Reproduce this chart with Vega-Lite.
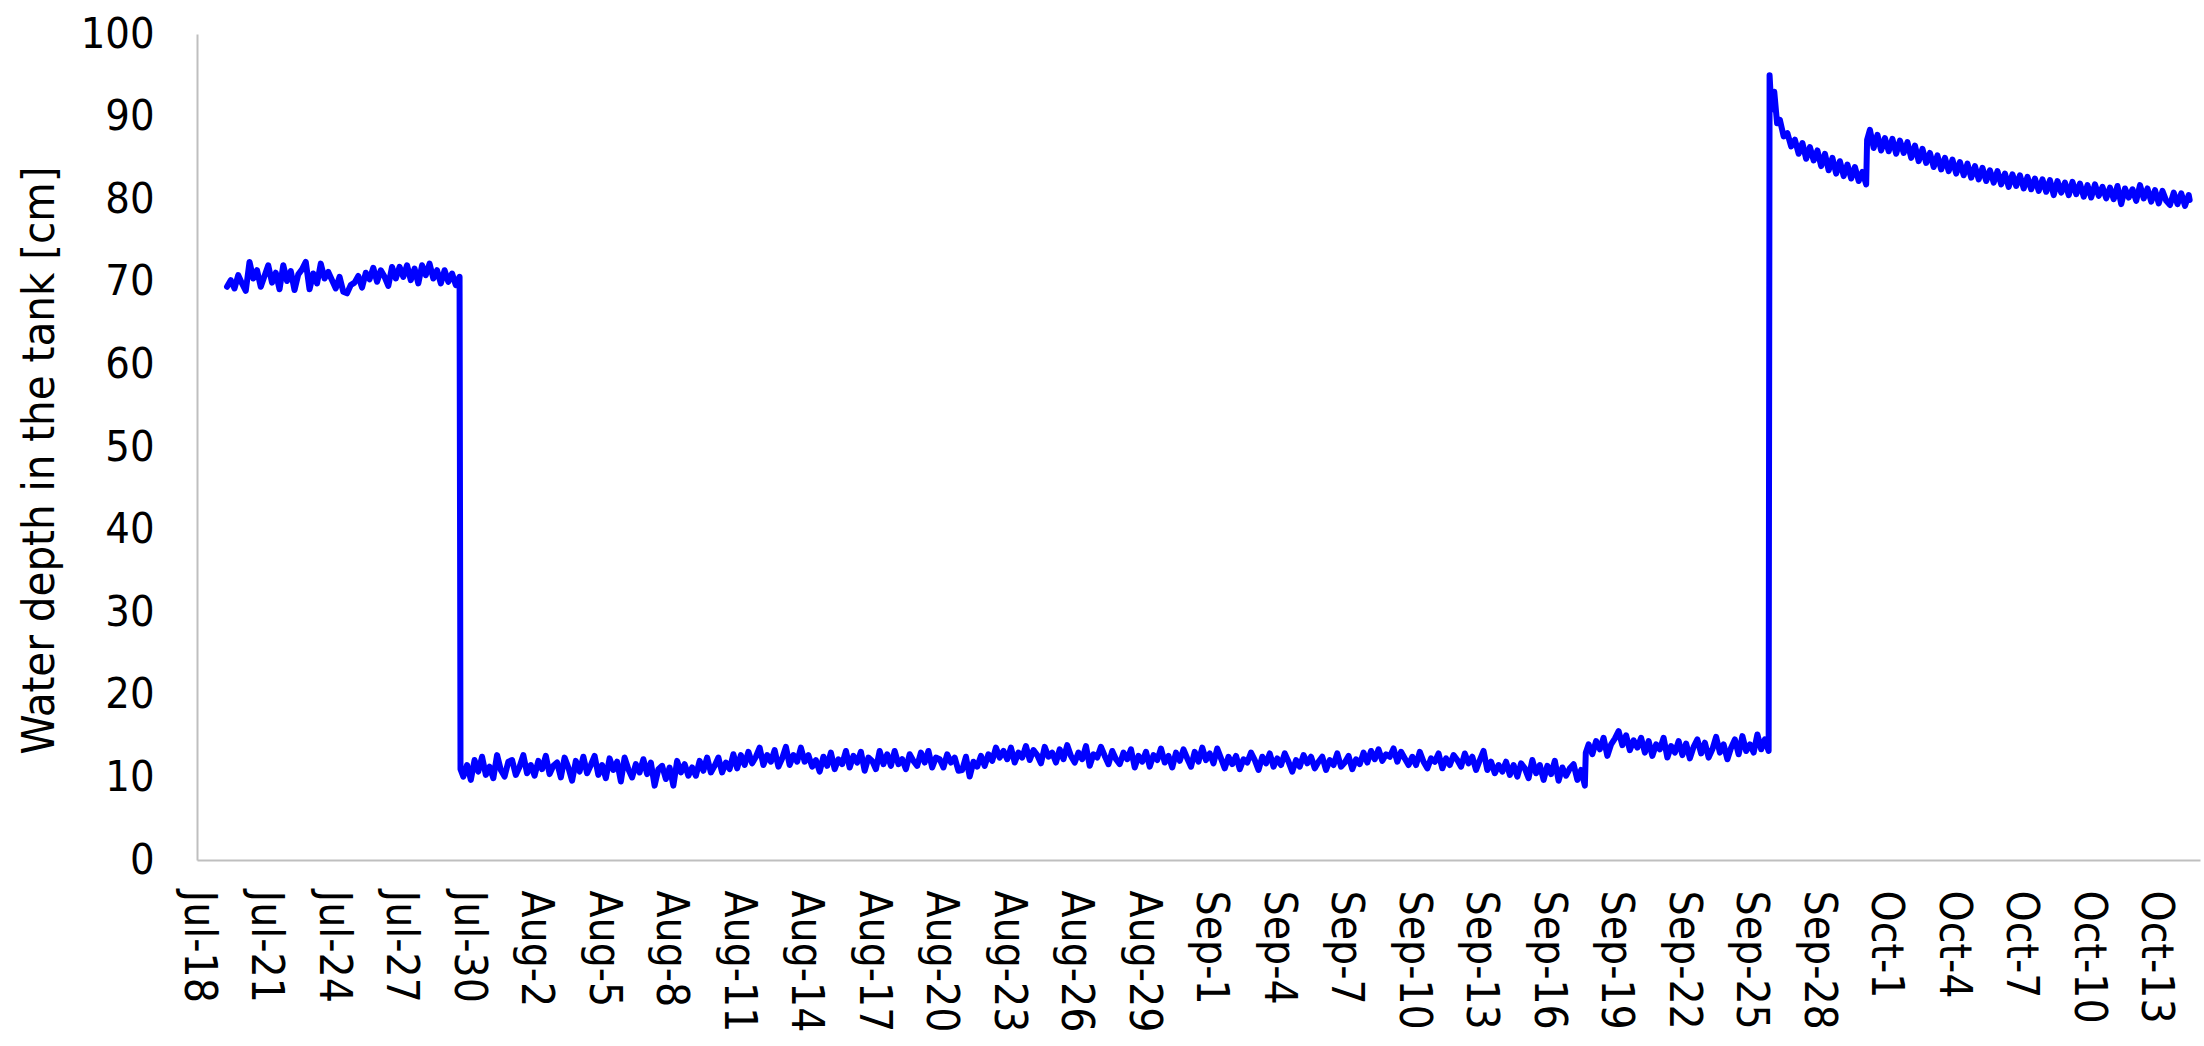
{
"$schema": "https://vega.github.io/schema/vega-lite/v6.json",
"width": 2003,
"height": 826,
"autosize": {"type": "none"},
"padding": {"left": 197, "top": 34, "right": 4, "bottom": 186},
"background": "white",
"config": {"view": {"stroke": null}, "font": "DejaVu Sans Condensed, DejaVu Sans"},
"data": {"values": [
{"t":"2019-07-19T08:00","d":69.4},{"t":"2019-07-19T12:00","d":70.2},{"t":"2019-07-19T16:00","d":69.2},{"t":"2019-07-19T20:00","d":70.8},
{"t":"2019-07-20T00:00","d":69.8},{"t":"2019-07-20T04:00","d":68.9},{"t":"2019-07-20T08:00","d":72.4},{"t":"2019-07-20T12:00","d":70.4},{"t":"2019-07-20T16:00","d":71.4},{"t":"2019-07-20T20:00","d":69.4},
{"t":"2019-07-21T00:00","d":70.7},{"t":"2019-07-21T04:00","d":72.0},{"t":"2019-07-21T08:00","d":69.9},{"t":"2019-07-21T12:00","d":71.1},{"t":"2019-07-21T16:00","d":69.1},{"t":"2019-07-21T20:00","d":72.0},
{"t":"2019-07-22T00:00","d":70.1},{"t":"2019-07-22T04:00","d":71.3},{"t":"2019-07-22T08:00","d":69.0},{"t":"2019-07-22T12:00","d":70.9},{"t":"2019-07-22T16:00","d":71.5},{"t":"2019-07-22T20:00","d":72.4},
{"t":"2019-07-23T00:00","d":69.1},{"t":"2019-07-23T04:00","d":71.0},{"t":"2019-07-23T08:00","d":69.8},{"t":"2019-07-23T12:00","d":72.2},{"t":"2019-07-23T16:00","d":70.4},{"t":"2019-07-23T20:00","d":71.2},
{"t":"2019-07-24T00:00","d":70.2},{"t":"2019-07-24T04:00","d":69.2},{"t":"2019-07-24T08:00","d":70.6},{"t":"2019-07-24T12:00","d":68.8},{"t":"2019-07-24T16:00","d":68.6},{"t":"2019-07-24T20:00","d":69.6},
{"t":"2019-07-25T00:00","d":69.9},{"t":"2019-07-25T04:00","d":70.7},{"t":"2019-07-25T08:00","d":69.3},{"t":"2019-07-25T12:00","d":71.1},{"t":"2019-07-25T16:00","d":70.3},{"t":"2019-07-25T20:00","d":71.7},
{"t":"2019-07-26T00:00","d":70.0},{"t":"2019-07-26T04:00","d":71.4},{"t":"2019-07-26T08:00","d":70.6},{"t":"2019-07-26T12:00","d":69.5},{"t":"2019-07-26T16:00","d":71.8},{"t":"2019-07-26T20:00","d":70.4},
{"t":"2019-07-27T00:00","d":71.8},{"t":"2019-07-27T04:00","d":70.6},{"t":"2019-07-27T08:00","d":72.0},{"t":"2019-07-27T12:00","d":70.2},{"t":"2019-07-27T16:00","d":71.6},{"t":"2019-07-27T20:00","d":69.8},
{"t":"2019-07-28T00:00","d":72.0},{"t":"2019-07-28T04:00","d":70.8},{"t":"2019-07-28T08:00","d":72.2},{"t":"2019-07-28T12:00","d":70.4},{"t":"2019-07-28T16:00","d":71.4},{"t":"2019-07-28T20:00","d":69.8},
{"t":"2019-07-29T00:00","d":71.4},{"t":"2019-07-29T04:00","d":70.0},{"t":"2019-07-29T08:00","d":71.0},{"t":"2019-07-29T12:00","d":69.6},{"t":"2019-07-29T16:00","d":70.6},
{"t":"2019-07-29T17:00","d":11.0},{"t":"2019-07-29T20:00","d":10.1},
{"t":"2019-07-30T00:00","d":11.5},{"t":"2019-07-30T04:00","d":9.7},{"t":"2019-07-30T08:00","d":12.1},{"t":"2019-07-30T12:00","d":10.7},{"t":"2019-07-30T16:00","d":12.5},{"t":"2019-07-30T20:00","d":10.3},
{"t":"2019-07-31T00:00","d":11.3},{"t":"2019-07-31T04:00","d":9.9},{"t":"2019-07-31T08:00","d":12.7},{"t":"2019-07-31T12:00","d":10.9},{"t":"2019-07-31T16:00","d":10.1},{"t":"2019-07-31T20:00","d":11.9},
{"t":"2019-08-01T00:00","d":12.1},{"t":"2019-08-01T04:00","d":10.3},{"t":"2019-08-01T08:00","d":11.3},{"t":"2019-08-01T12:00","d":12.7},{"t":"2019-08-01T16:00","d":10.5},{"t":"2019-08-01T20:00","d":11.5},
{"t":"2019-08-02T00:00","d":10.2},{"t":"2019-08-02T04:00","d":12.0},{"t":"2019-08-02T08:00","d":11.0},{"t":"2019-08-02T12:00","d":12.6},{"t":"2019-08-02T16:00","d":10.4},{"t":"2019-08-02T20:00","d":11.4},
{"t":"2019-08-03T00:00","d":11.8},{"t":"2019-08-03T04:00","d":10.0},{"t":"2019-08-03T08:00","d":12.4},{"t":"2019-08-03T12:00","d":11.2},{"t":"2019-08-03T16:00","d":9.6},{"t":"2019-08-03T20:00","d":12.0},
{"t":"2019-08-04T00:00","d":10.7},{"t":"2019-08-04T04:00","d":12.5},{"t":"2019-08-04T08:00","d":10.5},{"t":"2019-08-04T12:00","d":11.5},{"t":"2019-08-04T16:00","d":12.6},{"t":"2019-08-04T20:00","d":10.3},
{"t":"2019-08-05T00:00","d":11.5},{"t":"2019-08-05T04:00","d":9.9},{"t":"2019-08-05T08:00","d":12.3},{"t":"2019-08-05T12:00","d":10.9},{"t":"2019-08-05T16:00","d":11.9},{"t":"2019-08-05T20:00","d":9.5},
{"t":"2019-08-06T00:00","d":12.4},{"t":"2019-08-06T04:00","d":11.0},{"t":"2019-08-06T08:00","d":10.0},{"t":"2019-08-06T12:00","d":11.6},{"t":"2019-08-06T16:00","d":10.6},{"t":"2019-08-06T20:00","d":12.2},
{"t":"2019-08-07T00:00","d":10.4},{"t":"2019-08-07T04:00","d":11.8},{"t":"2019-08-07T08:00","d":9.0},{"t":"2019-08-07T12:00","d":11.0},{"t":"2019-08-07T16:00","d":11.4},{"t":"2019-08-07T20:00","d":9.8},
{"t":"2019-08-08T00:00","d":11.2},{"t":"2019-08-08T04:00","d":9.0},{"t":"2019-08-08T08:00","d":12.0},{"t":"2019-08-08T12:00","d":10.6},{"t":"2019-08-08T16:00","d":11.6},{"t":"2019-08-08T20:00","d":10.2},
{"t":"2019-08-09T00:00","d":11.2},{"t":"2019-08-09T04:00","d":10.2},{"t":"2019-08-09T08:00","d":12.0},{"t":"2019-08-09T12:00","d":10.8},{"t":"2019-08-09T16:00","d":12.4},{"t":"2019-08-09T20:00","d":10.6},
{"t":"2019-08-10T00:00","d":11.4},{"t":"2019-08-10T04:00","d":12.4},{"t":"2019-08-10T08:00","d":10.6},{"t":"2019-08-10T12:00","d":11.8},{"t":"2019-08-10T16:00","d":11.0},{"t":"2019-08-10T20:00","d":12.8},
{"t":"2019-08-11T00:00","d":11.1},{"t":"2019-08-11T04:00","d":12.7},{"t":"2019-08-11T08:00","d":11.5},{"t":"2019-08-11T12:00","d":13.1},{"t":"2019-08-11T16:00","d":11.7},{"t":"2019-08-11T20:00","d":12.5},
{"t":"2019-08-12T00:00","d":13.6},{"t":"2019-08-12T04:00","d":11.5},{"t":"2019-08-12T08:00","d":12.7},{"t":"2019-08-12T12:00","d":11.9},{"t":"2019-08-12T16:00","d":13.3},{"t":"2019-08-12T20:00","d":11.3},
{"t":"2019-08-13T00:00","d":12.3},{"t":"2019-08-13T04:00","d":13.7},{"t":"2019-08-13T08:00","d":11.5},{"t":"2019-08-13T12:00","d":12.7},{"t":"2019-08-13T16:00","d":11.9},{"t":"2019-08-13T20:00","d":13.6},
{"t":"2019-08-14T00:00","d":11.9},{"t":"2019-08-14T04:00","d":12.7},{"t":"2019-08-14T08:00","d":11.3},{"t":"2019-08-14T12:00","d":12.1},{"t":"2019-08-14T16:00","d":10.7},{"t":"2019-08-14T20:00","d":12.5},
{"t":"2019-08-15T00:00","d":11.4},{"t":"2019-08-15T04:00","d":13.0},{"t":"2019-08-15T08:00","d":11.0},{"t":"2019-08-15T12:00","d":12.2},{"t":"2019-08-15T16:00","d":11.6},{"t":"2019-08-15T20:00","d":13.2},
{"t":"2019-08-16T00:00","d":11.2},{"t":"2019-08-16T04:00","d":12.6},{"t":"2019-08-16T08:00","d":11.8},{"t":"2019-08-16T12:00","d":13.1},{"t":"2019-08-16T16:00","d":10.8},{"t":"2019-08-16T20:00","d":12.4},
{"t":"2019-08-17T00:00","d":12.0},{"t":"2019-08-17T04:00","d":11.0},{"t":"2019-08-17T08:00","d":13.2},{"t":"2019-08-17T12:00","d":11.6},{"t":"2019-08-17T16:00","d":12.8},{"t":"2019-08-17T20:00","d":11.4},
{"t":"2019-08-18T00:00","d":13.2},{"t":"2019-08-18T04:00","d":11.6},{"t":"2019-08-18T08:00","d":12.2},{"t":"2019-08-18T12:00","d":11.0},{"t":"2019-08-18T16:00","d":12.8},{"t":"2019-08-18T20:00","d":12.0},
{"t":"2019-08-19T00:00","d":11.4},{"t":"2019-08-19T04:00","d":13.0},{"t":"2019-08-19T08:00","d":11.8},{"t":"2019-08-19T12:00","d":13.2},{"t":"2019-08-19T16:00","d":11.2},{"t":"2019-08-19T20:00","d":12.4},
{"t":"2019-08-20T00:00","d":12.2},{"t":"2019-08-20T04:00","d":11.2},{"t":"2019-08-20T08:00","d":12.8},{"t":"2019-08-20T12:00","d":11.8},{"t":"2019-08-20T16:00","d":12.4},{"t":"2019-08-20T20:00","d":10.8},
{"t":"2019-08-21T00:00","d":10.9},{"t":"2019-08-21T04:00","d":12.5},{"t":"2019-08-21T08:00","d":10.1},{"t":"2019-08-21T12:00","d":11.9},{"t":"2019-08-21T16:00","d":11.3},{"t":"2019-08-21T20:00","d":12.6},
{"t":"2019-08-22T00:00","d":11.4},{"t":"2019-08-22T04:00","d":12.8},{"t":"2019-08-22T08:00","d":12.0},{"t":"2019-08-22T12:00","d":13.6},{"t":"2019-08-22T16:00","d":12.4},{"t":"2019-08-22T20:00","d":13.2},
{"t":"2019-08-23T00:00","d":12.2},{"t":"2019-08-23T04:00","d":13.6},{"t":"2019-08-23T08:00","d":11.8},{"t":"2019-08-23T12:00","d":13.0},{"t":"2019-08-23T16:00","d":12.4},{"t":"2019-08-23T20:00","d":13.8},
{"t":"2019-08-24T00:00","d":12.1},{"t":"2019-08-24T04:00","d":13.3},{"t":"2019-08-24T08:00","d":12.7},{"t":"2019-08-24T12:00","d":11.7},{"t":"2019-08-24T16:00","d":13.7},{"t":"2019-08-24T20:00","d":12.5},
{"t":"2019-08-25T00:00","d":13.0},{"t":"2019-08-25T04:00","d":11.8},{"t":"2019-08-25T08:00","d":13.4},{"t":"2019-08-25T12:00","d":12.2},{"t":"2019-08-25T16:00","d":13.9},{"t":"2019-08-25T20:00","d":12.6},
{"t":"2019-08-26T00:00","d":11.8},{"t":"2019-08-26T04:00","d":13.0},{"t":"2019-08-26T08:00","d":12.2},{"t":"2019-08-26T12:00","d":13.8},{"t":"2019-08-26T16:00","d":11.4},{"t":"2019-08-26T20:00","d":12.8},
{"t":"2019-08-27T00:00","d":12.4},{"t":"2019-08-27T04:00","d":13.7},{"t":"2019-08-27T08:00","d":12.6},{"t":"2019-08-27T12:00","d":11.6},{"t":"2019-08-27T16:00","d":13.2},{"t":"2019-08-27T20:00","d":12.2},
{"t":"2019-08-28T00:00","d":11.6},{"t":"2019-08-28T04:00","d":13.0},{"t":"2019-08-28T08:00","d":12.2},{"t":"2019-08-28T12:00","d":13.4},{"t":"2019-08-28T16:00","d":11.2},{"t":"2019-08-28T20:00","d":12.6},
{"t":"2019-08-29T00:00","d":11.9},{"t":"2019-08-29T04:00","d":13.1},{"t":"2019-08-29T08:00","d":11.3},{"t":"2019-08-29T12:00","d":12.7},{"t":"2019-08-29T16:00","d":12.1},{"t":"2019-08-29T20:00","d":13.5},
{"t":"2019-08-30T00:00","d":11.8},{"t":"2019-08-30T04:00","d":12.6},{"t":"2019-08-30T08:00","d":11.2},{"t":"2019-08-30T12:00","d":13.0},{"t":"2019-08-30T16:00","d":12.0},{"t":"2019-08-30T20:00","d":13.4},
{"t":"2019-08-31T00:00","d":12.3},{"t":"2019-08-31T04:00","d":11.3},{"t":"2019-08-31T08:00","d":13.1},{"t":"2019-08-31T12:00","d":11.9},{"t":"2019-08-31T16:00","d":13.6},{"t":"2019-08-31T20:00","d":12.1},
{"t":"2019-09-01T00:00","d":12.9},{"t":"2019-09-01T04:00","d":11.7},{"t":"2019-09-01T08:00","d":13.5},{"t":"2019-09-01T12:00","d":12.3},{"t":"2019-09-01T16:00","d":11.1},{"t":"2019-09-01T20:00","d":12.5},
{"t":"2019-09-02T00:00","d":11.6},{"t":"2019-09-02T04:00","d":12.6},{"t":"2019-09-02T08:00","d":11.0},{"t":"2019-09-02T12:00","d":12.2},{"t":"2019-09-02T16:00","d":11.8},{"t":"2019-09-02T20:00","d":13.0},
{"t":"2019-09-03T00:00","d":12.1},{"t":"2019-09-03T04:00","d":10.9},{"t":"2019-09-03T08:00","d":12.5},{"t":"2019-09-03T12:00","d":11.7},{"t":"2019-09-03T16:00","d":12.9},{"t":"2019-09-03T20:00","d":11.3},
{"t":"2019-09-04T00:00","d":12.3},{"t":"2019-09-04T04:00","d":11.5},{"t":"2019-09-04T08:00","d":12.9},{"t":"2019-09-04T12:00","d":11.9},{"t":"2019-09-04T16:00","d":10.7},{"t":"2019-09-04T20:00","d":12.1},
{"t":"2019-09-05T00:00","d":11.3},{"t":"2019-09-05T04:00","d":12.7},{"t":"2019-09-05T08:00","d":11.7},{"t":"2019-09-05T12:00","d":12.5},{"t":"2019-09-05T16:00","d":11.1},{"t":"2019-09-05T20:00","d":11.9},
{"t":"2019-09-06T00:00","d":12.5},{"t":"2019-09-06T04:00","d":10.9},{"t":"2019-09-06T08:00","d":12.1},{"t":"2019-09-06T12:00","d":11.5},{"t":"2019-09-06T16:00","d":12.9},{"t":"2019-09-06T20:00","d":11.3},
{"t":"2019-09-07T00:00","d":11.8},{"t":"2019-09-07T04:00","d":12.6},{"t":"2019-09-07T08:00","d":11.0},{"t":"2019-09-07T12:00","d":12.2},{"t":"2019-09-07T16:00","d":11.6},{"t":"2019-09-07T20:00","d":13.0},
{"t":"2019-09-08T00:00","d":11.8},{"t":"2019-09-08T04:00","d":13.2},{"t":"2019-09-08T08:00","d":12.2},{"t":"2019-09-08T12:00","d":13.4},{"t":"2019-09-08T16:00","d":12.0},{"t":"2019-09-08T20:00","d":12.8},
{"t":"2019-09-09T00:00","d":12.5},{"t":"2019-09-09T04:00","d":13.5},{"t":"2019-09-09T08:00","d":11.9},{"t":"2019-09-09T12:00","d":13.1},{"t":"2019-09-09T16:00","d":12.3},{"t":"2019-09-09T20:00","d":11.5},
{"t":"2019-09-10T00:00","d":12.5},{"t":"2019-09-10T04:00","d":11.5},{"t":"2019-09-10T08:00","d":13.1},{"t":"2019-09-10T12:00","d":11.9},{"t":"2019-09-10T16:00","d":11.1},{"t":"2019-09-10T20:00","d":12.3},
{"t":"2019-09-11T00:00","d":11.9},{"t":"2019-09-11T04:00","d":12.9},{"t":"2019-09-11T08:00","d":11.1},{"t":"2019-09-11T12:00","d":12.3},{"t":"2019-09-11T16:00","d":11.5},{"t":"2019-09-11T20:00","d":12.7},
{"t":"2019-09-12T00:00","d":12.1},{"t":"2019-09-12T04:00","d":11.3},{"t":"2019-09-12T08:00","d":12.9},{"t":"2019-09-12T12:00","d":11.7},{"t":"2019-09-12T16:00","d":12.5},{"t":"2019-09-12T20:00","d":10.9},
{"t":"2019-09-13T00:00","d":12.1},{"t":"2019-09-13T04:00","d":13.2},{"t":"2019-09-13T08:00","d":10.9},{"t":"2019-09-13T12:00","d":11.9},{"t":"2019-09-13T16:00","d":10.5},{"t":"2019-09-13T20:00","d":11.5},
{"t":"2019-09-14T00:00","d":10.7},{"t":"2019-09-14T04:00","d":11.9},{"t":"2019-09-14T08:00","d":10.3},{"t":"2019-09-14T12:00","d":11.5},{"t":"2019-09-14T16:00","d":10.1},{"t":"2019-09-14T20:00","d":11.7},
{"t":"2019-09-15T00:00","d":11.1},{"t":"2019-09-15T04:00","d":9.9},{"t":"2019-09-15T08:00","d":12.1},{"t":"2019-09-15T12:00","d":10.5},{"t":"2019-09-15T16:00","d":11.5},{"t":"2019-09-15T20:00","d":9.7},
{"t":"2019-09-16T00:00","d":11.4},{"t":"2019-09-16T04:00","d":10.4},{"t":"2019-09-16T08:00","d":12.0},{"t":"2019-09-16T12:00","d":9.6},{"t":"2019-09-16T16:00","d":11.2},{"t":"2019-09-16T20:00","d":10.2},
{"t":"2019-09-17T00:00","d":11.1},{"t":"2019-09-17T04:00","d":11.6},{"t":"2019-09-17T08:00","d":9.7},{"t":"2019-09-17T12:00","d":10.9},{"t":"2019-09-17T16:00","d":9.0},
{"t":"2019-09-17T17:00","d":13.0},{"t":"2019-09-17T20:00","d":14.0},
{"t":"2019-09-18T00:00","d":12.8},{"t":"2019-09-18T04:00","d":14.4},{"t":"2019-09-18T08:00","d":13.4},{"t":"2019-09-18T12:00","d":14.8},{"t":"2019-09-18T16:00","d":12.6},{"t":"2019-09-18T20:00","d":14.0},
{"t":"2019-09-19T00:00","d":14.7},{"t":"2019-09-19T04:00","d":15.6},{"t":"2019-09-19T08:00","d":13.9},{"t":"2019-09-19T12:00","d":15.1},{"t":"2019-09-19T16:00","d":13.3},{"t":"2019-09-19T20:00","d":14.5},
{"t":"2019-09-20T00:00","d":13.6},{"t":"2019-09-20T04:00","d":14.8},{"t":"2019-09-20T08:00","d":13.0},{"t":"2019-09-20T12:00","d":14.4},{"t":"2019-09-20T16:00","d":12.6},{"t":"2019-09-20T20:00","d":14.0},
{"t":"2019-09-21T00:00","d":13.4},{"t":"2019-09-21T04:00","d":14.8},{"t":"2019-09-21T08:00","d":12.4},{"t":"2019-09-21T12:00","d":13.8},{"t":"2019-09-21T16:00","d":13.0},{"t":"2019-09-21T20:00","d":14.4},
{"t":"2019-09-22T00:00","d":12.7},{"t":"2019-09-22T04:00","d":14.1},{"t":"2019-09-22T08:00","d":12.3},{"t":"2019-09-22T12:00","d":13.7},{"t":"2019-09-22T16:00","d":14.6},{"t":"2019-09-22T20:00","d":12.9},
{"t":"2019-09-23T00:00","d":14.2},{"t":"2019-09-23T04:00","d":12.4},{"t":"2019-09-23T08:00","d":13.4},{"t":"2019-09-23T12:00","d":14.9},{"t":"2019-09-23T16:00","d":13.0},{"t":"2019-09-23T20:00","d":14.0},
{"t":"2019-09-24T00:00","d":12.2},{"t":"2019-09-24T04:00","d":13.6},{"t":"2019-09-24T08:00","d":14.6},{"t":"2019-09-24T12:00","d":12.8},{"t":"2019-09-24T16:00","d":15.0},{"t":"2019-09-24T20:00","d":13.2},
{"t":"2019-09-25T00:00","d":14.0},{"t":"2019-09-25T04:00","d":13.0},{"t":"2019-09-25T08:00","d":15.2},{"t":"2019-09-25T12:00","d":13.4},{"t":"2019-09-25T16:00","d":14.6},{"t":"2019-09-25T20:00","d":13.2},
{"t":"2019-09-25T21:00","d":95.0},{"t":"2019-09-25T23:00","d":90.8},{"t":"2019-09-26T02:00","d":93.0},{"t":"2019-09-26T05:00","d":89.2},{"t":"2019-09-26T08:00","d":89.6},{"t":"2019-09-26T12:00","d":87.6},{"t":"2019-09-26T16:00","d":88.0},{"t":"2019-09-26T20:00","d":86.4},
{"t":"2019-09-27T00:00","d":87.2},{"t":"2019-09-27T04:00","d":85.5},{"t":"2019-09-27T08:00","d":86.8},{"t":"2019-09-27T12:00","d":84.9},{"t":"2019-09-27T16:00","d":86.3},{"t":"2019-09-27T20:00","d":84.7},
{"t":"2019-09-28T00:00","d":85.9},{"t":"2019-09-28T04:00","d":84.0},{"t":"2019-09-28T08:00","d":85.5},{"t":"2019-09-28T12:00","d":83.5},{"t":"2019-09-28T16:00","d":85.0},{"t":"2019-09-28T20:00","d":83.1},
{"t":"2019-09-29T00:00","d":84.6},{"t":"2019-09-29T04:00","d":82.8},{"t":"2019-09-29T08:00","d":84.2},{"t":"2019-09-29T12:00","d":82.5},{"t":"2019-09-29T16:00","d":83.9},{"t":"2019-09-29T20:00","d":82.2},
{"t":"2019-09-30T00:00","d":83.3},{"t":"2019-09-30T04:00","d":81.8},{"t":"2019-09-30T05:00","d":87.2},{"t":"2019-09-30T08:00","d":88.4},{"t":"2019-09-30T12:00","d":86.2},{"t":"2019-09-30T16:00","d":87.8},{"t":"2019-09-30T20:00","d":85.9},
{"t":"2019-10-01T00:00","d":87.4},{"t":"2019-10-01T04:00","d":85.8},{"t":"2019-10-01T08:00","d":87.3},{"t":"2019-10-01T12:00","d":85.5},{"t":"2019-10-01T16:00","d":87.1},{"t":"2019-10-01T20:00","d":85.6},
{"t":"2019-10-02T00:00","d":86.9},{"t":"2019-10-02T04:00","d":85.0},{"t":"2019-10-02T08:00","d":86.5},{"t":"2019-10-02T12:00","d":84.6},{"t":"2019-10-02T16:00","d":86.1},{"t":"2019-10-02T20:00","d":84.4},
{"t":"2019-10-03T00:00","d":85.6},{"t":"2019-10-03T04:00","d":83.9},{"t":"2019-10-03T08:00","d":85.3},{"t":"2019-10-03T12:00","d":83.6},{"t":"2019-10-03T16:00","d":85.0},{"t":"2019-10-03T20:00","d":83.4},
{"t":"2019-10-04T00:00","d":84.8},{"t":"2019-10-04T04:00","d":83.1},{"t":"2019-10-04T08:00","d":84.5},{"t":"2019-10-04T12:00","d":82.9},{"t":"2019-10-04T16:00","d":84.3},{"t":"2019-10-04T20:00","d":82.6},
{"t":"2019-10-05T00:00","d":84.0},{"t":"2019-10-05T04:00","d":82.4},{"t":"2019-10-05T08:00","d":83.8},{"t":"2019-10-05T12:00","d":82.2},{"t":"2019-10-05T16:00","d":83.5},{"t":"2019-10-05T20:00","d":82.0},
{"t":"2019-10-06T00:00","d":83.4},{"t":"2019-10-06T04:00","d":81.8},{"t":"2019-10-06T08:00","d":83.1},{"t":"2019-10-06T12:00","d":81.5},{"t":"2019-10-06T16:00","d":83.0},{"t":"2019-10-06T20:00","d":81.6},
{"t":"2019-10-07T00:00","d":82.9},{"t":"2019-10-07T04:00","d":81.3},{"t":"2019-10-07T08:00","d":82.7},{"t":"2019-10-07T12:00","d":81.2},{"t":"2019-10-07T16:00","d":82.5},{"t":"2019-10-07T20:00","d":81.0},
{"t":"2019-10-08T00:00","d":82.4},{"t":"2019-10-08T04:00","d":80.9},{"t":"2019-10-08T08:00","d":82.3},{"t":"2019-10-08T12:00","d":80.5},{"t":"2019-10-08T16:00","d":82.2},{"t":"2019-10-08T20:00","d":80.8},
{"t":"2019-10-09T00:00","d":82.0},{"t":"2019-10-09T04:00","d":80.5},{"t":"2019-10-09T08:00","d":82.1},{"t":"2019-10-09T12:00","d":80.6},{"t":"2019-10-09T16:00","d":81.9},{"t":"2019-10-09T20:00","d":80.3},
{"t":"2019-10-10T00:00","d":81.7},{"t":"2019-10-10T04:00","d":80.2},{"t":"2019-10-10T08:00","d":81.8},{"t":"2019-10-10T12:00","d":80.4},{"t":"2019-10-10T16:00","d":81.5},{"t":"2019-10-10T20:00","d":80.1},
{"t":"2019-10-11T00:00","d":81.4},{"t":"2019-10-11T04:00","d":80.0},{"t":"2019-10-11T08:00","d":81.6},{"t":"2019-10-11T12:00","d":79.4},{"t":"2019-10-11T16:00","d":81.3},{"t":"2019-10-11T20:00","d":80.2},
{"t":"2019-10-12T00:00","d":81.2},{"t":"2019-10-12T04:00","d":79.8},{"t":"2019-10-12T08:00","d":81.7},{"t":"2019-10-12T12:00","d":80.1},{"t":"2019-10-12T16:00","d":81.3},{"t":"2019-10-12T20:00","d":79.7},
{"t":"2019-10-13T00:00","d":81.1},{"t":"2019-10-13T04:00","d":79.5},{"t":"2019-10-13T08:00","d":81.0},{"t":"2019-10-13T12:00","d":79.8},{"t":"2019-10-13T16:00","d":79.3},{"t":"2019-10-13T20:00","d":80.8},
{"t":"2019-10-14T00:00","d":79.4},{"t":"2019-10-14T04:00","d":80.7},{"t":"2019-10-14T08:00","d":79.2},{"t":"2019-10-14T12:00","d":80.5},{"t":"2019-10-14T13:00","d":79.9}
]},
"mark": {"type": "line", "color": "#0000ff", "strokeWidth": 6, "strokeJoin": "round", "strokeCap": "round", "clip": true},
"encoding": {
  "x": {
    "field": "t", "type": "temporal",
    "scale": {"domain": [{"year": 2019, "month": 7, "date": 18}, {"year": 2019, "month": 10, "date": 15}], "nice": false},
    "axis": {
      "title": null,
      "values": [
        {"year": 2019, "month": 7, "date": 18}, {"year": 2019, "month": 7, "date": 21}, {"year": 2019, "month": 7, "date": 24}, {"year": 2019, "month": 7, "date": 27}, {"year": 2019, "month": 7, "date": 30},
        {"year": 2019, "month": 8, "date": 2}, {"year": 2019, "month": 8, "date": 5}, {"year": 2019, "month": 8, "date": 8}, {"year": 2019, "month": 8, "date": 11}, {"year": 2019, "month": 8, "date": 14},
        {"year": 2019, "month": 8, "date": 17}, {"year": 2019, "month": 8, "date": 20}, {"year": 2019, "month": 8, "date": 23}, {"year": 2019, "month": 8, "date": 26}, {"year": 2019, "month": 8, "date": 29},
        {"year": 2019, "month": 9, "date": 1}, {"year": 2019, "month": 9, "date": 4}, {"year": 2019, "month": 9, "date": 7}, {"year": 2019, "month": 9, "date": 10}, {"year": 2019, "month": 9, "date": 13},
        {"year": 2019, "month": 9, "date": 16}, {"year": 2019, "month": 9, "date": 19}, {"year": 2019, "month": 9, "date": 22}, {"year": 2019, "month": 9, "date": 25}, {"year": 2019, "month": 9, "date": 28},
        {"year": 2019, "month": 10, "date": 1}, {"year": 2019, "month": 10, "date": 4}, {"year": 2019, "month": 10, "date": 7}, {"year": 2019, "month": 10, "date": 10}, {"year": 2019, "month": 10, "date": 13}
      ],
      "format": "%b-%-d",
      "labelAngle": 90,
      "labelFontSize": 44,
      "labelColor": "#000000",
      "labelPadding": 30,
      "labelOverlap": false,
      "labelFlush": false,
      "labelBound": false,
      "grid": false,
      "ticks": false,
      "tickSize": 0,
      "domainColor": "#bfbfbf",
      "domainWidth": 2
    }
  },
  "y": {
    "field": "d", "type": "quantitative",
    "scale": {"domain": [0, 100], "nice": false, "zero": true},
    "axis": {
      "title": "Water depth in the tank [cm]",
      "titleFontSize": 45,
      "titleFontWeight": "normal",
      "titleColor": "#000000",
      "titlePadding": 18,
      "titleY": 426,
      "values": [0, 10, 20, 30, 40, 50, 60, 70, 80, 90, 100],
      "labelFontSize": 43,
      "labelColor": "#000000",
      "labelPadding": 43,
      "labelOverlap": false,
      "labelFlush": false,
      "grid": false,
      "ticks": false,
      "tickSize": 0,
      "domainColor": "#bfbfbf",
      "domainWidth": 2
    }
  }
}
}
